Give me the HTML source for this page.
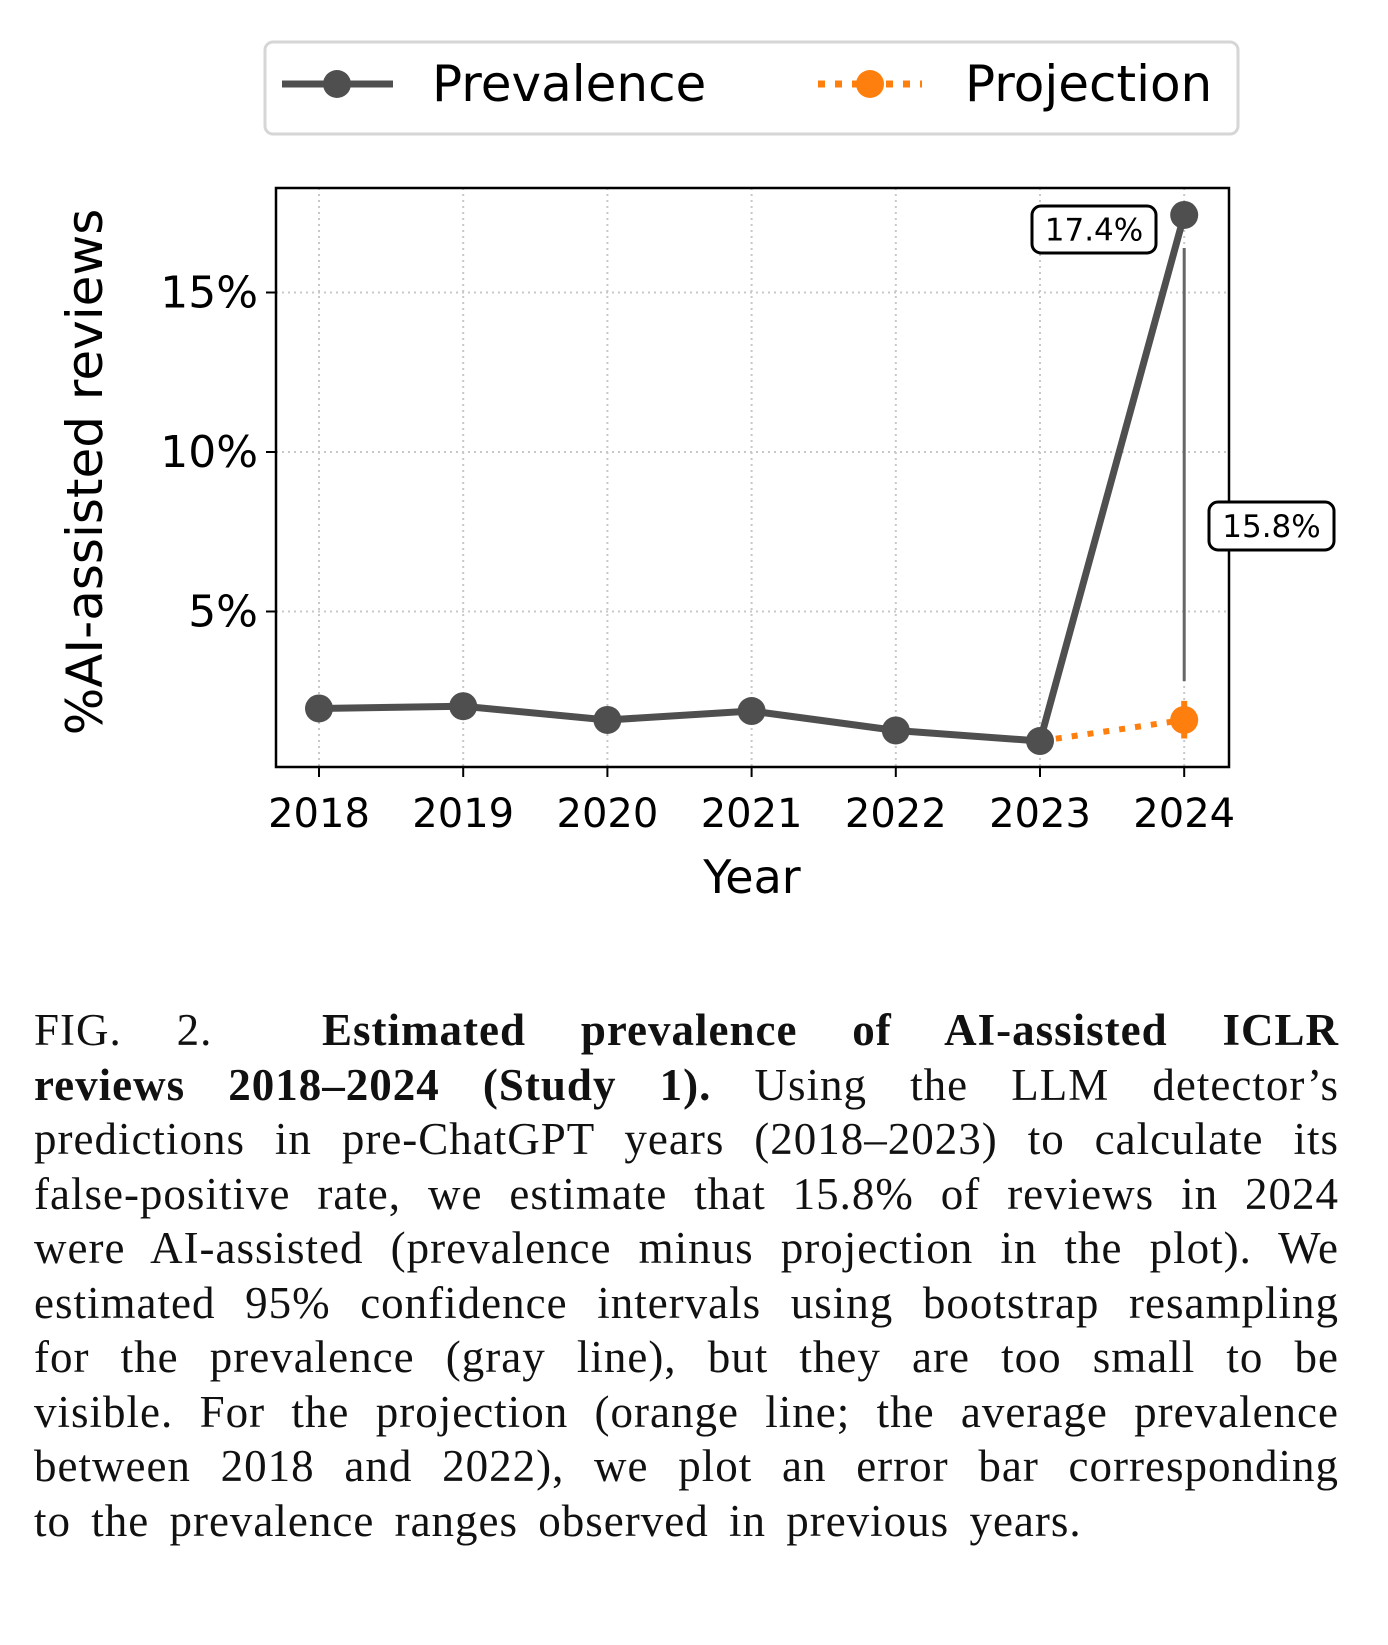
<!DOCTYPE html>
<html><head><meta charset="utf-8"><style>
body{margin:0;background:#fff;width:1388px;height:1645px;overflow:hidden;position:relative}
svg{position:absolute;left:0;top:0}
#cap{position:absolute;left:34px;top:1003px;width:1305px;font-family:"Liberation Serif",serif;font-size:45px;letter-spacing:1px;word-spacing:8px;color:#111}
.ln{height:54.5px;line-height:54.5px;text-align:justify;text-align-last:justify;white-space:nowrap}
.ln.last{text-align-last:left}
</style></head><body>
<svg id="chart" width="1388" height="960"></svg>
<div id="cap">
<div class="ln">FIG. 2. &nbsp;<b>Estimated prevalence of AI-assisted ICLR</b></div>
<div class="ln"><b>reviews 2018–2024 (Study 1).</b> Using the LLM detector’s</div>
<div class="ln">predictions in pre-ChatGPT years (2018–2023) to calculate its</div>
<div class="ln">false-positive rate, we estimate that 15.8% of reviews in 2024</div>
<div class="ln">were AI-assisted (prevalence minus projection in the plot). We</div>
<div class="ln">estimated 95% confidence intervals using bootstrap resampling</div>
<div class="ln">for the prevalence (gray line), but they are too small to be</div>
<div class="ln">visible. For the projection (orange line; the average prevalence</div>
<div class="ln">between 2018 and 2022), we plot an error bar corresponding</div>
<div class="ln last">to the prevalence ranges observed in previous years.</div>
</div>
<script>
const years=[2018,2019,2020,2021,2022,2023,2024];
const prevalence=[1.96,2.03,1.6,1.88,1.27,0.94,17.43];
const projYears=[2023,2024];
const projection=[0.94,1.6];
const projErrLo=[1.02];
const projErrHi=[2.2];
const yTicks=[5,10,15];
const yTickLabels=["5%","10%","15%"];
const annTop="17.4%";
const annDiff="15.8%";

const NS="http://www.w3.org/2000/svg";
const svg=document.getElementById('chart');
const L=276,R=1229,T=188,B=767;
const xs=y=>319+(y-2018)*144.2;
const ys=v=>771-v*31.9;
function el(t,a,p){const e=document.createElementNS(NS,t);for(const k in a)e.setAttribute(k,a[k]);(p||svg).appendChild(e);return e;}
const F='"DejaVu Sans","Liberation Sans",sans-serif';
yTicks.forEach((v,i)=>{
 const g=el('line',{x1:L,x2:R,y1:ys(v),y2:ys(v),stroke:'#c8c8c8','stroke-width':2,'stroke-dasharray':'2,4'});
 
 
 el('line',{x1:L-10,x2:L,y1:ys(v),y2:ys(v),stroke:'#000','stroke-width':2});
 const t=el('text',{x:L-18,y:ys(v)+15,'text-anchor':'end','font-family':F,'font-size':44,fill:'#000'});
 t.textContent=yTickLabels[i];
 
 
});
years.forEach(y=>{
 const g=el('line',{x1:xs(y),x2:xs(y),y1:T,y2:B,stroke:'#c8c8c8','stroke-width':2,'stroke-dasharray':'2,4'});
 
 
 el('line',{x1:xs(y),x2:xs(y),y1:B,y2:B+10,stroke:'#000','stroke-width':2});
 const t=el('text',{x:xs(y),y:827,'text-anchor':'middle','font-family':F,'font-size':40,fill:'#000'});
 t.textContent=y;
 
 
});
const dl=el('line',{x1:xs(2024),x2:xs(2024),y1:248,y2:681,stroke:'#666','stroke-width':3});


const pp=el('polyline',{points:projYears.map((y,i)=>xs(y)+','+ys(projection[i])).join(' '),fill:'none',stroke:'#ff7f0e','stroke-width':6,'stroke-dasharray':'6,10'});


const eb=el('line',{x1:xs(2024),x2:xs(2024),y1:ys(projErrHi[0]),y2:ys(projErrLo[0]),stroke:'#ff7f0e','stroke-width':6});


const pm=el('circle',{cx:xs(2024),cy:ys(projection[1]),r:14,fill:'#ff7f0e'});


const pl=el('polyline',{points:years.map((y,i)=>xs(y)+','+ys(prevalence[i])).join(' '),fill:'none',stroke:'#4f4f4f','stroke-width':7});


years.forEach((y,i)=>{
 const c=el('circle',{cx:xs(y),cy:ys(prevalence[i]),r:14,fill:'#4f4f4f'});
 
 
});
el('rect',{x:L,y:T,width:R-L,height:B-T,fill:'none',stroke:'#000','stroke-width':2.5});
function ann(x,y,w,h,txt,name){
 const g=el('g',{});
 
 
 el('rect',{x:x,y:y,width:w,height:h,rx:9,fill:'#fff',stroke:'#000','stroke-width':3},g);
 const t=el('text',{x:x+w/2,y:y+h/2+11,'text-anchor':'middle','font-family':F,'font-size':31,fill:'#000'},g);
 t.textContent=txt;
}
ann(1032,206,124,47,annTop,'annotation-17-4');
ann(1209,502,125,48,annDiff,'annotation-15-8');
const yl=el('text',{x:0,y:0,transform:'translate(102,472) rotate(-90)','text-anchor':'middle','font-family':F,'font-size':50,fill:'#000'});
yl.textContent='%AI-assisted reviews';


const xl=el('text',{x:752,y:893,'text-anchor':'middle','font-family':F,'font-size':46,fill:'#000'});
xl.textContent='Year';


const lg=el('g',{});


el('rect',{x:265,y:42,width:973,height:92,rx:8,fill:'#fff',stroke:'#d6d6d6','stroke-width':3},lg);
el('line',{x1:282,x2:393,y1:84,y2:84,stroke:'#4f4f4f','stroke-width':7},lg);
el('circle',{cx:337,cy:84,r:14,fill:'#4f4f4f'},lg);
const t1=el('text',{x:432,y:101,'font-family':F,'font-size':50,fill:'#000'},lg);t1.textContent='Prevalence';


el('line',{x1:818,x2:922,y1:84,y2:84,stroke:'#ff7f0e','stroke-width':7,'stroke-dasharray':'7,10'},lg);
el('circle',{cx:870,cy:84,r:14,fill:'#ff7f0e'},lg);
const t2=el('text',{x:965,y:101,'font-family':F,'font-size':50,fill:'#000'},lg);t2.textContent='Projection';


</script>
</body></html>
